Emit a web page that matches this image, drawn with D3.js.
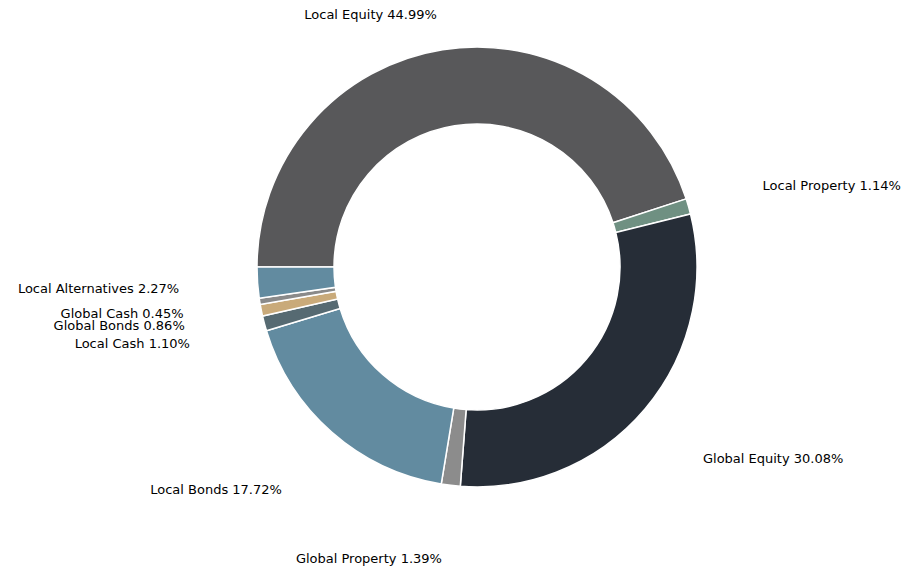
<!DOCTYPE html>
<html>
<head>
<meta charset="utf-8">
<script src="https://cdn.jsdelivr.net/npm/d3@7/dist/d3.min.js"></script>
<style>
  html, body { margin: 0; padding: 0; background: #ffffff; }
  svg { display: block; }
</style>
</head>
<body>
<svg id="chart" width="916" height="571"></svg>
<script>
// Data (clockwise from 9 o'clock)
const categories = ["Local Equity", "Local Property", "Global Equity", "Global Property",
  "Local Bonds", "Local Cash", "Global Bonds", "Global Cash", "Local Alternatives"];
const values = [44.99, 1.14, 30.08, 1.39, 17.72, 1.10, 0.86, 0.45, 2.27];

// Styling
const colors = ["#58585a", "#6f9082", "#262d37", "#8c8c8c", "#628ba0",
  "#566a72", "#c9aa7a", "#8a8a8a", "#628ba0"];
const labelDistance = {
  "Local Equity": 1.163, "Local Property": 1.35, "Global Equity": 1.345,
  "Global Property": 1.335, "Local Bonds": 1.345, "Local Cash": 1.35,
  "Global Bonds": 1.355, "Global Cash": 1.35, "Local Alternatives": 1.357
};

const cx = 477, cy = 267, R = 220, r0 = 143;
const svg = d3.select("#chart");
const g = svg.append("g").attr("transform", `translate(${cx},${cy})`);

const data = categories.map((c, i) => ({ name: c, value: values[i], color: colors[i] }));
const pie = d3.pie().sort(null).value(d => d.value)
  .startAngle(-Math.PI / 2).endAngle(3 * Math.PI / 2);
const arcs = pie(data);
const arc = d3.arc().innerRadius(r0).outerRadius(R);

g.selectAll("path.slice").data(arcs).enter().append("path")
  .attr("class", "slice")
  .attr("d", arc)
  .attr("fill", d => d.data.color)
  .attr("stroke", "#ffffff")
  .attr("stroke-width", 1.5)
  .attr("stroke-linejoin", "miter");

g.selectAll("text.lbl").data(arcs).enter().append("text")
  .attr("class", "lbl")
  .each(function(d) {
    const a = (d.startAngle + d.endAngle) / 2;
    const rr = R * labelDistance[d.data.name];
    const x = rr * Math.sin(a), y = -rr * Math.cos(a);
    d3.select(this)
      .attr("x", x).attr("y", y)
      .attr("text-anchor", x < 0 ? "end" : "start")
      .attr("dominant-baseline", "central");
  })
  .attr("font-family", "DejaVu Sans, sans-serif")
  .attr("font-size", 13)
  .attr("fill", "#000000")
  .text(d => `${d.data.name} ${d.data.value.toFixed(2)}%`);
</script>
</body>
</html>
